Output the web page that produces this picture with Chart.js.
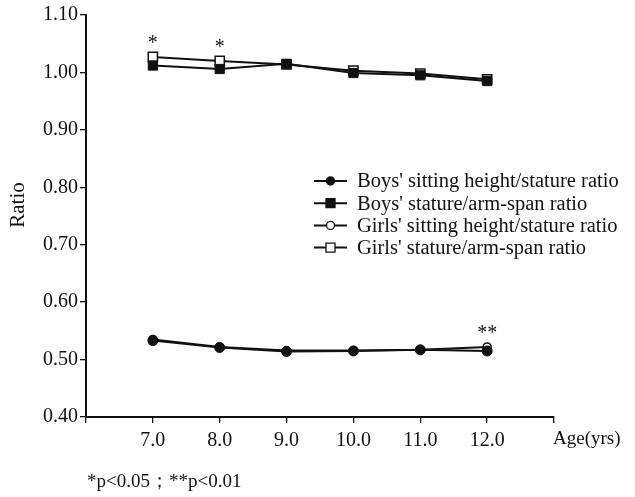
<!DOCTYPE html>
<html>
<head>
<meta charset="utf-8">
<script src="https://cdn.jsdelivr.net/npm/chart.js@4/dist/chart.umd.min.js"></script>
<style>
  html, body { margin: 0; padding: 0; background: #fff; }
  #wrap { width: 635px; height: 497px; }
</style>
</head>
<body>
<div id="wrap"><canvas id="ratioChart" width="635" height="497"></canvas></div>
<script>
// ages (x) and the four ratio series
const ages = [7, 8, 9, 10, 11, 12];
const boysSitting = [0.533, 0.521, 0.514, 0.515, 0.517, 0.515];
const boysArmSpan = [1.012, 1.006, 1.015, 0.999, 0.995, 0.985];
const girlsSitting = [0.535, 0.522, 0.516, 0.516, 0.517, 0.522];
const girlsArmSpan = [1.027, 1.020, 1.014, 1.003, 0.998, 0.988];
const yTicks = [0.40, 0.50, 0.60, 0.70, 0.80, 0.90, 1.00, 1.10];
const xTickLabels = ['7.0', '8.0', '9.0', '10.0', '11.0', '12.0'];
// significance marks: series, age index, text
const marks = [
  { series: 3, idx: 0, text: '*' },
  { series: 3, idx: 1, text: '*' },
  { series: 2, idx: 5, text: '**' }
];

const serif = '"Liberation Serif", "DejaVu Serif", serif';
const toPts = arr => arr.map((v, i) => ({ x: ages[i], y: v }));

function ds(label, values, style, filled, order) {
  return {
    label: label,
    data: toPts(values),
    borderColor: '#111',
    borderWidth: 2,
    pointStyle: style,
    pointRadius: style === 'rect' ? 6.5 : (filled ? 5 : 4),
    pointBorderWidth: filled ? 1 : 1.5,
    pointBackgroundColor: filled ? '#111' : '#fff',
    pointBorderColor: '#111',
    showLine: true,
    tension: 0,
    order: order
  };
}

const datasets = [
  ds("Boys' sitting height/stature ratio", boysSitting, 'circle', true, 1),
  ds("Boys' stature/arm-span ratio", boysArmSpan, 'rect', true, 1),
  ds("Girls' sitting height/stature ratio", girlsSitting, 'circle', false, 2),
  ds("Girls' stature/arm-span ratio", girlsArmSpan, 'rect', false, 2)
];

// legend, stars, axis titles and footnote
const extras = {
  id: 'extras',
  afterDatasetsDraw(chart) {
    const c = chart.ctx;
    const xs = chart.scales.x, ys = chart.scales.y;
    c.save();
    c.fillStyle = '#111';
    c.font = '20px ' + serif;
    c.textAlign = 'center';
    c.textBaseline = 'middle';
    marks.forEach(m => {
      const px = xs.getPixelForValue(ages[m.idx]);
      const py = ys.getPixelForValue(datasets[m.series].data[m.idx].y);
      c.fillText(m.text, px, py - 13);
    });

    // legend
    c.font = '20.5px ' + serif;
    c.textAlign = 'left';
    datasets.forEach((d, i) => {
      const y = 181 + i * 22.2;
      c.strokeStyle = '#111';
      c.lineWidth = 2;
      c.beginPath();
      c.moveTo(314, y);
      c.lineTo(347, y);
      c.stroke();
      c.fillStyle = d.pointBackgroundColor;
      c.lineWidth = 1.3;
      c.beginPath();
      if (d.pointStyle === 'circle') c.arc(330.5, y, 4, 0, Math.PI * 2);
      else c.rect(326, y - 4.5, 9, 9);
      c.fill();
      c.stroke();
      c.fillStyle = '#111';
      c.fillText(d.label, 357, y + 1);
    });

    c.font = '19px ' + serif;
    c.fillText('Age(yrs)', 553, 439);
    c.font = '19px ' + serif;
    c.fillText('*p<0.05；**p<0.01', 87, 482);
    c.translate(18, 205);
    c.rotate(-Math.PI / 2);
    c.textAlign = 'center';
    c.font = '21px ' + serif;
    c.fillText('Ratio', 0, 0);
    c.restore();
  }
};

new Chart(document.getElementById('ratioChart'), {
  type: 'scatter',
  data: { datasets: datasets },
  options: {
    responsive: false,
    animation: false,
    layout: { padding: { top: 15, right: 81, left: 0, bottom: 0 } },
    plugins: { legend: { display: false }, tooltip: { enabled: false } },
    scales: {
      x: {
        type: 'linear',
        min: 6,
        max: 13,
        afterFit(axis) { axis.height = 80; },
        afterBuildTicks(axis) {
          axis.ticks = [6, 7, 8, 9, 10, 11, 12, 13].map(v => ({ value: v }));
        },
        ticks: {
          color: '#111',
          font: { family: serif, size: 20 },
          padding: 6,
          maxRotation: 0,
          callback: v => (v >= 7 && v <= 12) ? xTickLabels[v - 7] : ''
        },
        grid: { drawOnChartArea: false, drawTicks: true, tickLength: 6, color: '#111', lineWidth: 1.3 },
        border: { color: '#111', width: 2 }
      },
      y: {
        min: 0.40,
        max: 1.10,
        afterFit(axis) { axis.width = 86; },
        afterBuildTicks(axis) {
          axis.ticks = yTicks.map(v => ({ value: v }));
        },
        ticks: {
          color: '#111',
          font: { family: serif, size: 20 },
          padding: 2,
          callback: v => v.toFixed(2)
        },
        grid: { drawOnChartArea: false, drawTicks: true, tickLength: 6, color: '#111', lineWidth: 1.3 },
        border: { color: '#111', width: 2 }
      }
    }
  },
  plugins: [extras]
});
</script>
</body>
</html>
